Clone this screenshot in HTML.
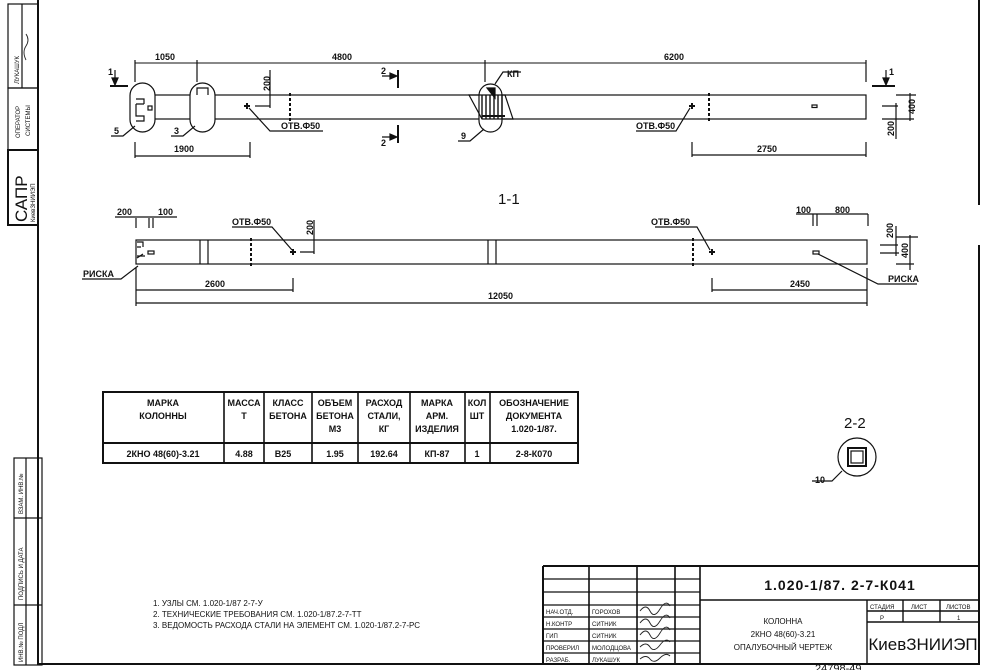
<!DOCTYPE html>
<html><head><meta charset="utf-8"><style>
html,body{margin:0;padding:0;background:#fff;}
svg{display:block;}
text{font-family:"Liberation Sans","DejaVu Sans",sans-serif;fill:#111;}
</style></head><body>
<svg width="991" height="670" viewBox="0 0 991 670" xmlns="http://www.w3.org/2000/svg">
<g stroke="#111" fill="none" stroke-width="1.2">
<line x1="38" y1="0" x2="38" y2="665" stroke-width="2"/>
<line x1="38" y1="664" x2="980" y2="664" stroke-width="2"/>
<line x1="979" y1="0" x2="979" y2="205" stroke-width="2"/>
<line x1="979" y1="245" x2="979" y2="665" stroke-width="2"/>
<rect x="8" y="4" width="30" height="84"/>
<line x1="22" y1="4" x2="22" y2="88"/>
<rect x="8" y="88" width="30" height="62"/>
<rect x="8" y="150" width="30" height="75" stroke-width="2"/>
<rect x="14" y="458" width="28" height="207"/>
<line x1="26" y1="458" x2="26" y2="665"/>
<line x1="14" y1="518" x2="42" y2="518"/>
<line x1="14" y1="605" x2="42" y2="605"/>

<rect x="135" y="95" width="731" height="24"/>
<line x1="135" y1="63" x2="866" y2="63" stroke-width="1"/>
<line x1="135" y1="60" x2="135" y2="82"/><line x1="197" y1="60" x2="197" y2="82"/>
<line x1="485" y1="60" x2="485" y2="82"/><line x1="866" y1="60" x2="866" y2="82"/>
<rect x="130" y="83" width="25" height="49" rx="12.5" fill="#fff"/>
<path d="M136 104 h8 M136 104 v12 h8 M136 99 h8 v5 M140 116 h4 v5 h-8" />
<rect x="148" y="106" width="4" height="4"/>
<rect x="190" y="83" width="25" height="49" rx="12.5" fill="#fff"/>
<path d="M197 95 v-7 h11 v7"/>
<rect x="479" y="84" width="23" height="48" rx="11.5" fill="#fff"/>
<path d="M469 95 L505 95 L513 119 L482 119 Z"/>
<path d="M482 95v24 M486 95v24 M490 95v24 M494 95v24 M498 95v24 M502 95v24" stroke-width="1.4"/>
<line x1="482" y1="116" x2="505" y2="116" stroke-width="2"/>
<path d="M487 88 h8 v10 z" fill="#111"/>
<path d="M111 136 h12 l12 -10"/><path d="M171 136 h12 l12 -10"/><path d="M458 141 h12 l14 -12"/>
<path d="M495 84 l8 -12 h18"/>
<line x1="110" y1="86" x2="128" y2="86" stroke-width="2"/>
<line x1="115" y1="70" x2="115" y2="84"/><path d="M112 78 l3 7 l3 -7z" fill="#111"/>
<line x1="872" y1="86" x2="895" y2="86" stroke-width="2"/>
<line x1="886" y1="70" x2="886" y2="84"/><path d="M883 78 l3 7 l3 -7z" fill="#111"/>
<line x1="398" y1="70" x2="398" y2="88" stroke-width="2"/>
<line x1="398" y1="125" x2="398" y2="143" stroke-width="2"/>
<path d="M382 76 h14 M382 137 h14"/>
<path d="M390 73 l7 3 l-7 3z M390 134 l7 3 l-7 3z" fill="#111"/>
<path d="M244 106 h6 M247 103 v6" stroke-width="2"/>
<line x1="255" y1="106" x2="270" y2="106"/>
<line x1="270" y1="70" x2="270" y2="108"/>
<path d="M249 108 L270 131 H323"/>
<line x1="290" y1="93" x2="290" y2="121" stroke-dasharray="3,2" stroke-width="2"/>
<line x1="135" y1="156" x2="250" y2="156"/>
<line x1="135" y1="142" x2="135" y2="158"/><line x1="250" y1="142" x2="250" y2="158"/>
<path d="M689 106 h6 M692 103 v6" stroke-width="2"/>
<path d="M690 108 L676 131 H636"/>
<line x1="709" y1="93" x2="709" y2="121" stroke-dasharray="3,2" stroke-width="2"/>
<rect x="812" y="105" width="5" height="2.5"/>
<line x1="692" y1="155" x2="866" y2="155"/>
<line x1="692" y1="142" x2="692" y2="157"/><line x1="866" y1="142" x2="866" y2="157"/>
<path d="M882 106 H898 M882 119 H914 M896 95 H916"/>
<line x1="910" y1="93" x2="910" y2="121"/>
<line x1="896" y1="103" x2="896" y2="139"/>

<rect x="136" y="240" width="731" height="24"/>
<line x1="200" y1="240" x2="200" y2="264"/><line x1="208" y1="240" x2="208" y2="264"/>
<line x1="488" y1="240" x2="488" y2="264"/><line x1="496" y1="240" x2="496" y2="264"/>
<line x1="251" y1="238" x2="251" y2="266" stroke-dasharray="3,2" stroke-width="2"/>
<line x1="693" y1="238" x2="693" y2="266" stroke-dasharray="3,2" stroke-width="2"/>
<path d="M137 242 h6 v5 M137 247 h4 M137 258 l6 -4 M137 256 h8" />
<rect x="148" y="251" width="6" height="3"/>
<path d="M290 252 h6 M293 249 v6" stroke-width="2"/>
<path d="M709 252 h6 M712 249 v6" stroke-width="2"/>
<path d="M300 252 h14 M314 220 v34"/>
<path d="M292 250 L272 227 H232"/>
<path d="M710 250 L697 227 H655"/>
<rect x="813" y="251" width="6" height="3"/>
<path d="M818 254 L878 284 H917"/>
<path d="M138 266 L121 279 H82"/>
<path d="M115 217 H177 M136 218 v10 M149 218 v10 M153 218 v10 M147 217 H156"/>
<path d="M796 214 H868 M813 214 v12 M817 214 v12 M868 214 v12"/>
<path d="M880 245 H898 M880 253 H899 M896 237 H918 M896 226 v30 M910 235 v35 M896 264 H914"/>
<path d="M136 290 H293 M293 278 V292 M136 268 V306"/>
<path d="M136 303 H867 M867 268 V306"/>
<path d="M712 290 H867 M712 278 V292"/>

<rect x="103" y="392" width="475" height="71" stroke-width="2"/>
<line x1="103" y1="443" x2="578" y2="443" stroke-width="2"/>
<path d="M224 392V463 M264 392V463 M312 392V463 M358 392V463 M410 392V463 M465 392V463 M490 392V463" stroke-width="1.6"/>

<circle cx="857" cy="457" r="19"/>
<rect x="848" y="448" width="18" height="18" stroke-width="2"/>
<rect x="851" y="451" width="12" height="12"/>
<path d="M812 481 H832 L842 471"/>

<path d="M543 566 H979 M543 566 V664" stroke-width="2"/>
<path d="M589 566V664 M637 566V664 M675 566V664 M700 566V664" stroke-width="1.6"/>
<path d="M543 579 H700 M543 592 H700 M543 605 H700 M543 617 H700 M543 629 H700 M543 641 H700 M543 653 H700"/>
<path d="M700 600 H979 M867 600 V622 M903 600 V622 M940 600 V622 M867 611 H979 M867 622 H979" stroke-width="1.4"/>
<line x1="867" y1="622" x2="867" y2="664" stroke-width="1.4"/>
</g>
<g stroke="#222" fill="none" stroke-width="0.9">
<path d="M640 611 q6 -8 10 0 t10 -2 t10 -3"/>
<path d="M640 623 q6 -8 10 0 t10 -2 t10 -3"/>
<path d="M640 635 q6 -8 10 0 t10 -2 t10 -3"/>
<path d="M640 647 q6 -6 10 0 t10 -2 t10 -3"/>
<path d="M640 659 q6 -5 10 0 t10 -1 t10 -2"/>
<path d="M26 60 q-4 -8 0 -14 t0 -12"/>
</g>

<g font-size="9" font-weight="bold">
<text x="155" y="60">1050</text><text x="332" y="60">4800</text><text x="664" y="60">6200</text>
<text x="174" y="152">1900</text><text x="757" y="152">2750</text>
<text x="281" y="129">ОТВ.Ф50</text><text x="636" y="129">ОТВ.Ф50</text>
<text x="114" y="134">5</text><text x="174" y="134">3</text><text x="461" y="139">9</text>
<text x="507" y="77">КП</text>
<text x="108" y="75">1</text><text x="889" y="75">1</text>
<text x="381" y="74">2</text><text x="381" y="146">2</text>
<text transform="translate(270,91) rotate(-90)">200</text>
<text transform="translate(915,114) rotate(-90)">400</text>
<text transform="translate(894,136) rotate(-90)">200</text>
<text x="117" y="215">200</text><text x="158" y="215">100</text>
<text x="232" y="225">ОТВ.Ф50</text><text x="651" y="225">ОТВ.Ф50</text>
<text transform="translate(313,235) rotate(-90)">200</text>
<text x="796" y="213">100</text><text x="835" y="213">800</text>
<text transform="translate(893,238) rotate(-90)">200</text>
<text transform="translate(908,258) rotate(-90)">400</text>
<text x="83" y="277">РИСКА</text><text x="888" y="282">РИСКА</text>
<text x="205" y="287">2600</text><text x="790" y="287">2450</text>
<text x="488" y="299">12050</text>
<text x="815" y="483">10</text>
</g>
<text x="498" y="204" font-size="15">1-1</text>
<text x="844" y="428" font-size="15">2-2</text>

<g font-size="9" font-weight="bold" font-family="Liberation Sans" text-anchor="middle">
<text x="163" y="406">МАРКА</text><text x="163" y="419">КОЛОННЫ</text>
<text x="244" y="406">МАССА</text><text x="244" y="419">Т</text>
<text x="288" y="406">КЛАСС</text><text x="288" y="419">БЕТОНА</text>
<text x="335" y="406">ОБЪЕМ</text><text x="335" y="419">БЕТОНА</text><text x="335" y="432">М3</text>
<text x="384" y="406">РАСХОД</text><text x="384" y="419">СТАЛИ,</text><text x="384" y="432">КГ</text>
<text x="437" y="406">МАРКА</text><text x="437" y="419">АРМ.</text><text x="437" y="432">ИЗДЕЛИЯ</text>
<text x="477" y="406">КОЛ</text><text x="477" y="419">ШТ</text>
<text x="534" y="406">ОБОЗНАЧЕНИЕ</text><text x="534" y="419">ДОКУМЕНТА</text><text x="534" y="432">1.020-1/87.</text>
<text x="163" y="457">2КНО 48(60)-3.21</text><text x="244" y="457">4.88</text><text x="283" y="457">В25</text>
<text x="335" y="457">1.95</text><text x="384" y="457">192.64</text><text x="437" y="457">КП-87</text>
<text x="477" y="457">1</text><text x="534" y="457">2-8-К070</text>
</g>

<g font-size="8">
<text x="153" y="606">1. УЗЛЫ СМ. 1.020-1/87 2-7-У</text>
<text x="153" y="617">2. ТЕХНИЧЕСКИЕ ТРЕБОВАНИЯ СМ. 1.020-1/87.2-7-ТТ</text>
<text x="153" y="628">3. ВЕДОМОСТЬ РАСХОДА СТАЛИ НА ЭЛЕМЕНТ СМ. 1.020-1/87.2-7-РС</text>
</g>

<g font-size="6">
<text x="546" y="614">НАЧ.ОТД.</text><text x="592" y="614">ГОРОХОВ</text>
<text x="546" y="626">Н.КОНТР</text><text x="592" y="626">СИТНИК</text>
<text x="546" y="638">ГИП</text><text x="592" y="638">СИТНИК</text>
<text x="546" y="650">ПРОВЕРИЛ</text><text x="592" y="650">МОЛОДЦОВА</text>
<text x="546" y="662">РАЗРАБ.</text><text x="592" y="662">ЛУКАШУК</text>
<text x="870" y="609">СТАДИЯ</text><text x="911" y="609">ЛИСТ</text><text x="946" y="609">ЛИСТОВ</text>
<text x="880" y="620">Р</text><text x="957" y="620">1</text>
</g>
<text x="840" y="590" font-size="14" font-family="Liberation Mono" font-weight="bold" text-anchor="middle" letter-spacing="1">1.020-1/87. 2-7-К041</text>
<g font-size="8" text-anchor="middle">
<text x="783" y="624">КОЛОННА</text><text x="783" y="637">2КНО 48(60)-3.21</text><text x="783" y="650">ОПАЛУБОЧНЫЙ ЧЕРТЕЖ</text>
</g>
<text x="923" y="650" font-size="17" text-anchor="middle">КиевЗНИИЭП</text>
<text x="815" y="672" font-size="11">24798-49</text>

<g font-size="6">
<text transform="translate(19,84) rotate(-90)">ЛУКАШУК</text>
<text transform="translate(20,138) rotate(-90)">ОПЕРАТОР</text>
<text transform="translate(30,136) rotate(-90)">СИСТЕМЫ</text>
<text transform="translate(35,222) rotate(-90)">КиевЗНИИЭП</text>
<text transform="translate(23,514) rotate(-90)">ВЗАМ. ИНВ.№</text>
<text transform="translate(23,600) rotate(-90)">ПОДПИСЬ И ДАТА</text>
<text transform="translate(23,662) rotate(-90)">ИНВ.№ ПОДЛ</text>
</g>
<text transform="translate(27,222) rotate(-90)" font-size="17">САПР</text>
</svg>
</body></html>
